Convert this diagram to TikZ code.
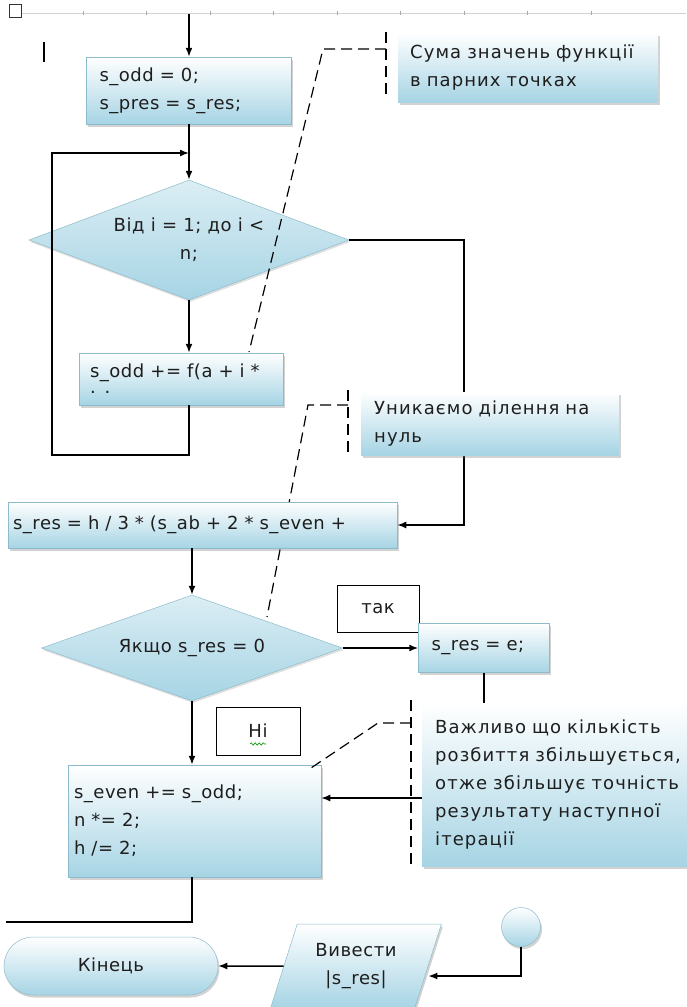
\documentclass[tikz,border=0pt]{standalone}
\usepackage{fontspec}
\setmainfont{DejaVu Sans}
\usetikzlibrary{arrows.meta,shapes.geometric,shadows,decorations.pathmorphing}
\definecolor{boxfill}{RGB}{166,212,228}
\definecolor{boxedge}{RGB}{140,188,204}
\definecolor{ink}{RGB}{30,30,30}

\begin{document}
\begin{tikzpicture}[x=1pt,y=-1pt]
\tikzstyle{every node}=[font=\fontsize{18}{28}\selectfont\addfontfeature{LetterSpace=3}, text=ink]
\tikzstyle{proc}=[rectangle, draw=boxedge, line width=.5pt, top color=white, bottom color=boxfill, drop shadow={shadow xshift=1.5pt, shadow yshift=-2.5pt, opacity=.35}, align=left, inner ysep=0pt]
\tikzstyle{cond}=[diamond, draw=boxedge, line width=.5pt, top color=boxfill!40!white, bottom color=boxfill, drop shadow={shadow xshift=1pt, shadow yshift=-2pt, opacity=.25}, align=center, inner sep=0pt]
\tikzstyle{note}=[rectangle, font=\fontsize{18}{28}\selectfont\addfontfeature{LetterSpace=6}, top color=white, bottom color=boxfill, drop shadow={shadow xshift=1.5pt, shadow yshift=-2.5pt, opacity=.35}, align=left, inner ysep=0pt, anchor=west]
\tikzstyle{tag}=[rectangle, draw=black, line width=.8pt, fill=white, inner sep=0pt]
\tikzstyle{flow}=[line width=1.5pt, -{Latex[length=9pt,width=7pt]}]
\tikzstyle{lead}=[line width=1.2pt, dash pattern=on 11pt off 6pt]

\useasboundingbox[fill=white] (0,0) rectangle (686,1007);

% page edge and cursor
\draw[gray!35, line width=.8pt] (22,13) -- (686,13);
\foreach \t in {0,...,8}
  \draw[gray!70, line width=.6pt] (83+63.5*\t,11) -- ++(0,4);
\draw[black!80, line width=.8pt] (9,4) rectangle (21,17);
\draw[line width=2pt] (44,42) -- (44,62);

% bends and callout points
\coordinate (entry) at (189,14);
\coordinate (join) at (189,153);
\coordinate (back) at (52,455);
\coordinate (r1) at (464,525);
\coordinate (r2) at (484,798);
\coordinate (r3) at (521,976);
\coordinate (exit) at (6,922);
\coordinate (k1) at (386,49);
\coordinate (m1) at (323,49);
\coordinate (t1) at (249,352);
\coordinate (k2) at (348,405);
\coordinate (m2) at (308,405);
\coordinate (t2) at (267,617);
\coordinate (k3) at (411,723);
\coordinate (m3) at (378,723);
\coordinate (t3) at (308,770);

% this one goes under the boxes
\draw[lead] (k2) -- (m2) -- (t2);

\draw (189,90.5) node (init) [proc, minimum width=205pt, minimum height=67pt, inner xsep=13pt, text width=179pt] {s\_odd = 0;\\s\_pres = s\_res;};
\draw (189,240) node (cyc) [cond, aspect=2.67, minimum width=320pt, minimum height=120pt] {Від i = 1; до i <\\n;};
\draw (181,379) node (body) [proc, minimum width=204pt, minimum height=52pt, inner xsep=11pt, text width=182pt] {s\_odd += f(a + i *\\[-12pt]. .};
\draw (202.5,525) node (sres) [proc, minimum width=389pt, minimum height=46pt, inner xsep=5pt, text width=379pt] {s\_res = h / 3 * (s\_ab + 2 * s\_even +};
\draw (192,648) node (chk) [cond, aspect=2.84, minimum width=301pt, minimum height=106pt] {Якщо s\_res = 0};
\draw (378,608.5) node (yes) [tag, minimum width=82pt, minimum height=47pt] {так};
\draw (484,648) node (eps) [proc, minimum width=131pt, minimum height=49pt, inner xsep=13pt, text width=105pt] {s\_res = e;};
\draw (258,731) node (no) [tag, minimum width=84pt, minimum height=48pt] {Ні};
\draw (194.5,821) node (upd) [proc, minimum width=253pt, minimum height=112pt, inner xsep=6pt, text width=241pt] {s\_even += s\_odd;\\n *= 2;\\h /= 2;};
\draw (111,966) node (fin) [proc, rounded corners=29pt, minimum width=214pt, minimum height=58pt, align=center] {Кінець};
\draw (356,966) node (out) [proc, trapezium, trapezium left angle=68, trapezium right angle=112, trapezium stretches, minimum width=171pt, minimum height=84pt, align=center, inner xsep=0pt] {Вивести\\|s\_res|};
\draw (521,927) node (con) [proc, circle, minimum size=39pt, inner sep=0pt] {};

\draw[green!60!black, line width=.6pt, decorate, decoration={snake, amplitude=1.2pt, segment length=4pt}] ([xshift=-8pt,yshift=-13pt]no.center) -- ([xshift=8pt,yshift=-13pt]no.center);

\draw[flow] (entry) -- (init);
\draw[flow] (init) -- (cyc);
\draw[flow] (cyc.south) -- (cyc.south |- body.north);
\draw[flow] (cyc.south |- body.south) |- (back) |- (join);
\draw[flow] (cyc.east) -| (r1) -- (sres.east);
\draw[flow] (chk.north |- sres.south) -- (chk.north);
\draw[flow] (chk.east) -- (eps.west);
\draw[flow] (chk.south) -- (chk.south |- upd.north);
\draw[flow] (eps.south) -- (r2) -- (upd.east |- r2);
\draw[line width=1.5pt] (chk.south |- upd.south) |- (exit);
\draw[flow] (con.south) -- (r3) -- (out.east |- r3);
\draw[flow] (out.west) -- (fin.east);

\draw[lead] (k1) -- (m1) -- (t1);
\draw[lead] (k3) -- (m3) -- (t3);
\draw[lead] (386,32) -- (386,100);
\draw[lead] (348,390) -- (348,456);
\draw[lead] (411,700) -- (411,868);

\draw (398,67.5) node (note1) [note, minimum width=254pt, minimum height=69pt, inner xsep=12pt, text width=236pt] {Сума значень функції\\в парних точках};
\draw (361,423.5) node (note2) [note, minimum width=258pt, minimum height=63pt, inner xsep=13pt, text width=232pt] {Уникаємо ділення на\\нуль};
\draw (422,784.5) node (note3) [note, minimum width=290pt, minimum height=163pt, inner xsep=13pt, text width=264pt] {Важливо що кількість\\розбиття збільшується,\\отже збільшує точність\\результату наступної\\ітерації};
\end{tikzpicture}
\end{document}
